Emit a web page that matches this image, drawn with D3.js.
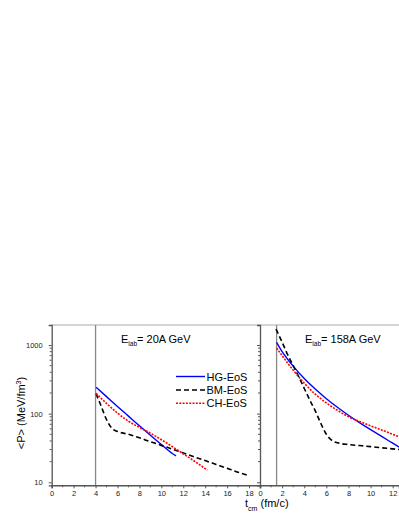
<!DOCTYPE html>
<html><head><meta charset="utf-8">
<script src="https://cdn.jsdelivr.net/npm/d3@7"></script>
<style>body{margin:0;background:#fff}svg{display:block}text{font-family:"Liberation Sans",Arial,sans-serif}</style>
</head><body>
<script>
// ---- data ----
const seriesNames = ["HG-EoS", "BM-EoS", "CH-EoS"];
const panelTitles = ["20A GeV", "158A GeV"];
// Left panel (E_lab = 20A GeV): [t_cm, <P>]
const hg20 = [[4.05,242],[5,177],[6,127],[7,92],[8,66.5],[9,48.4],[10,35.5],[11,26.3],[11.34,24.3]];
const bm20 = [[4.05,195],[4.5,130],[5,82],[5.5,61],[6,55],[7,50],[8,44.5],[9,39],[10,34.5],[11,30.4],[12,26.8],[13,23.5],[14,20.7],[15,18.2],[16,16],[17,14],[17.8,12.8]];
const ch20 = [[4.05,198],[5,141],[6,102],[7,77.6],[8,63],[9,51.9],[10,41.7],[11,33.1],[12,26],[13,20.4],[14,15.8],[14.2,15]];
// Right panel (E_lab = 158A GeV)
const hg158 = [[1.5,1089],[2,798],[2.5,619],[3,492],[4,325],[5,228],[6,165],[7,124],[8,94.8],[9,74],[10,58.5],[11,46.5],[12,37.1],[12.6,32.4]];
const bm158 = [[1.45,1700],[2,1096],[2.5,724],[3,500],[3.5,347],[4,234],[4.5,158],[5,110],[5.5,72],[6,50],[6.5,40.7],[7,37.6],[8,35.5],[9,34.3],[10,33.1],[11,31.8],[12,30.7],[12.6,30]];
const ch158 = [[1.5,900],[2,700],[2.5,545],[3,430],[4,278],[5,192],[6,143],[7,112],[8,90],[9,77],[10,66.5],[11,57.8],[12,50],[12.6,46]];
const xTicksLeft = [0,2,4,6,8,10,12,14,16,18];
const xTicksRight = [0,2,4,6,8,10,12];
const yTicks = [10,100,1000];
const markerLines = [4, 1.5];

const W = 399, H = 516;
const svg = d3.select("body").append("svg").attr("width", W).attr("height", H);

const yTop = 325, yBot = 485.3;
const y = d3.scaleLog().domain([9.04, 1955]).range([yBot, yTop]);
const xL = d3.scaleLinear().domain([0, 19]).range([51.7, 260]);
const xR = d3.scaleLinear().domain([0, 12.57]).range([260, 399]);

const axisCol = "#555";
svg.append("line").attr("x1", xL(0)).attr("x2", W).attr("y1", yTop).attr("y2", yTop)
  .attr("stroke", "#aaa").attr("stroke-width", 1);

const styles = {
  "HG-EoS": {stroke: "#0000ff", dash: null, w: 1.4},
  "BM-EoS": {stroke: "#000", dash: "5,3", w: 1.6},
  "CH-EoS": {stroke: "#ff0000", dash: "2,1.3", w: 1.6}
};

function panel(x, ticks, showYLabels, data, mline) {
  const g = svg.append("g");
  g.append("line").attr("x1", x(mline)).attr("x2", x(mline)).attr("y1", yTop).attr("y2", yBot)
    .attr("stroke", "#888").attr("stroke-width", 1.3);
  const line = d3.line().x(d => x(d[0])).y(d => y(d[1])).curve(d3.curveMonotoneX);
  const clipId = "c" + Math.round(x.range()[0]);
  svg.append("clipPath").attr("id", clipId).append("rect")
    .attr("x", x.range()[0]).attr("y", yTop).attr("width", x.range()[1] - x.range()[0]).attr("height", yBot - yTop);
  seriesNames.forEach((n, i) => {
    const s = styles[n];
    g.append("path").datum(data[i]).attr("d", line).attr("fill", "none")
      .attr("stroke", s.stroke).attr("stroke-width", s.w)
      .attr("stroke-dasharray", s.dash).attr("clip-path", `url(#${clipId})`);
  });
  const xa = d3.axisBottom(x).tickValues(ticks).tickSize(3).tickPadding(2).tickFormat(d3.format("d"));
  const ga = g.append("g").attr("transform", `translate(0,${yBot})`).call(xa);
  ga.select(".domain").attr("stroke", axisCol).attr("stroke-width", 1.5);
  ga.selectAll(".tick line").attr("stroke", axisCol);
  ga.selectAll("text").attr("font-size", 7.5).attr("fill", "#222");
  const minors = d3.range(Math.ceil(x.domain()[0]), x.domain()[1], 1).filter(v => v % 2 !== 0);
  g.append("g").selectAll("line").data(minors).join("line")
    .attr("x1", d => x(d)).attr("x2", d => x(d)).attr("y1", yBot).attr("y2", yBot + 2)
    .attr("stroke", axisCol);
  const ya = d3.axisLeft(y).tickValues(yTicks).tickSize(3).tickPadding(6)
    .tickFormat(showYLabels ? d3.format("d") : () => "");
  const gy = g.append("g").attr("transform", `translate(${x.range()[0]},0)`).call(ya);
  gy.select(".domain").attr("stroke", axisCol).attr("stroke-width", 1.3);
  gy.selectAll(".tick line").attr("stroke", axisCol);
  gy.selectAll("text").attr("font-size", 7.5).attr("fill", "#222");
  const yMinor = [];
  [10, 100, 1000].forEach(dec => { for (let k = 2; k <= 9; k++) { const v = dec * k; if (v < y.domain()[1]) yMinor.push(v); } });
  g.append("g").selectAll("line").data(yMinor).join("line")
    .attr("x1", x.range()[0] - 2).attr("x2", x.range()[0]).attr("y1", d => y(d)).attr("y2", d => y(d))
    .attr("stroke", axisCol);
}

panel(xL, xTicksLeft, true, [hg20, bm20, ch20], markerLines[0]);
panel(xR, xTicksRight, false, [hg158, bm158, ch158], markerLines[1]);

function title(xpos, txt) {
  const t = svg.append("text").attr("x", xpos).attr("y", 342.5).attr("font-size", 11).attr("fill", "#000");
  t.append("tspan").text("E");
  t.append("tspan").text("lab").attr("font-size", 6.5).attr("dy", 3);
  t.append("tspan").text("= " + txt).attr("dy", -3);
}
title(121, panelTitles[0]);
title(305, panelTitles[1]);

const legY = [376.5, 390, 403.3];
seriesNames.forEach((n, i) => {
  const s = styles[n];
  svg.append("line").attr("x1", 176).attr("x2", 205).attr("y1", legY[i]).attr("y2", legY[i])
    .attr("stroke", s.stroke).attr("stroke-width", s.w).attr("stroke-dasharray", s.dash);
  svg.append("text").attr("x", 206.5).attr("y", legY[i] + 4).attr("font-size", 11).text(n);
});

const yl = svg.append("text").attr("transform", "translate(25,413) rotate(-90)")
  .attr("text-anchor", "middle").attr("font-size", 11);
yl.append("tspan").text("<P> (MeV/fm");
yl.append("tspan").text("3").attr("font-size", 7).attr("dy", -4);
yl.append("tspan").text(")").attr("dy", 4);

const xlab = svg.append("text").attr("x", 245).attr("y", 507).attr("font-size", 11);
xlab.append("tspan").text("t");
xlab.append("tspan").text("cm").attr("font-size", 7).attr("dy", 4);
xlab.append("tspan").text(" (fm/c)").attr("dy", -4);
</script>
</body></html>
